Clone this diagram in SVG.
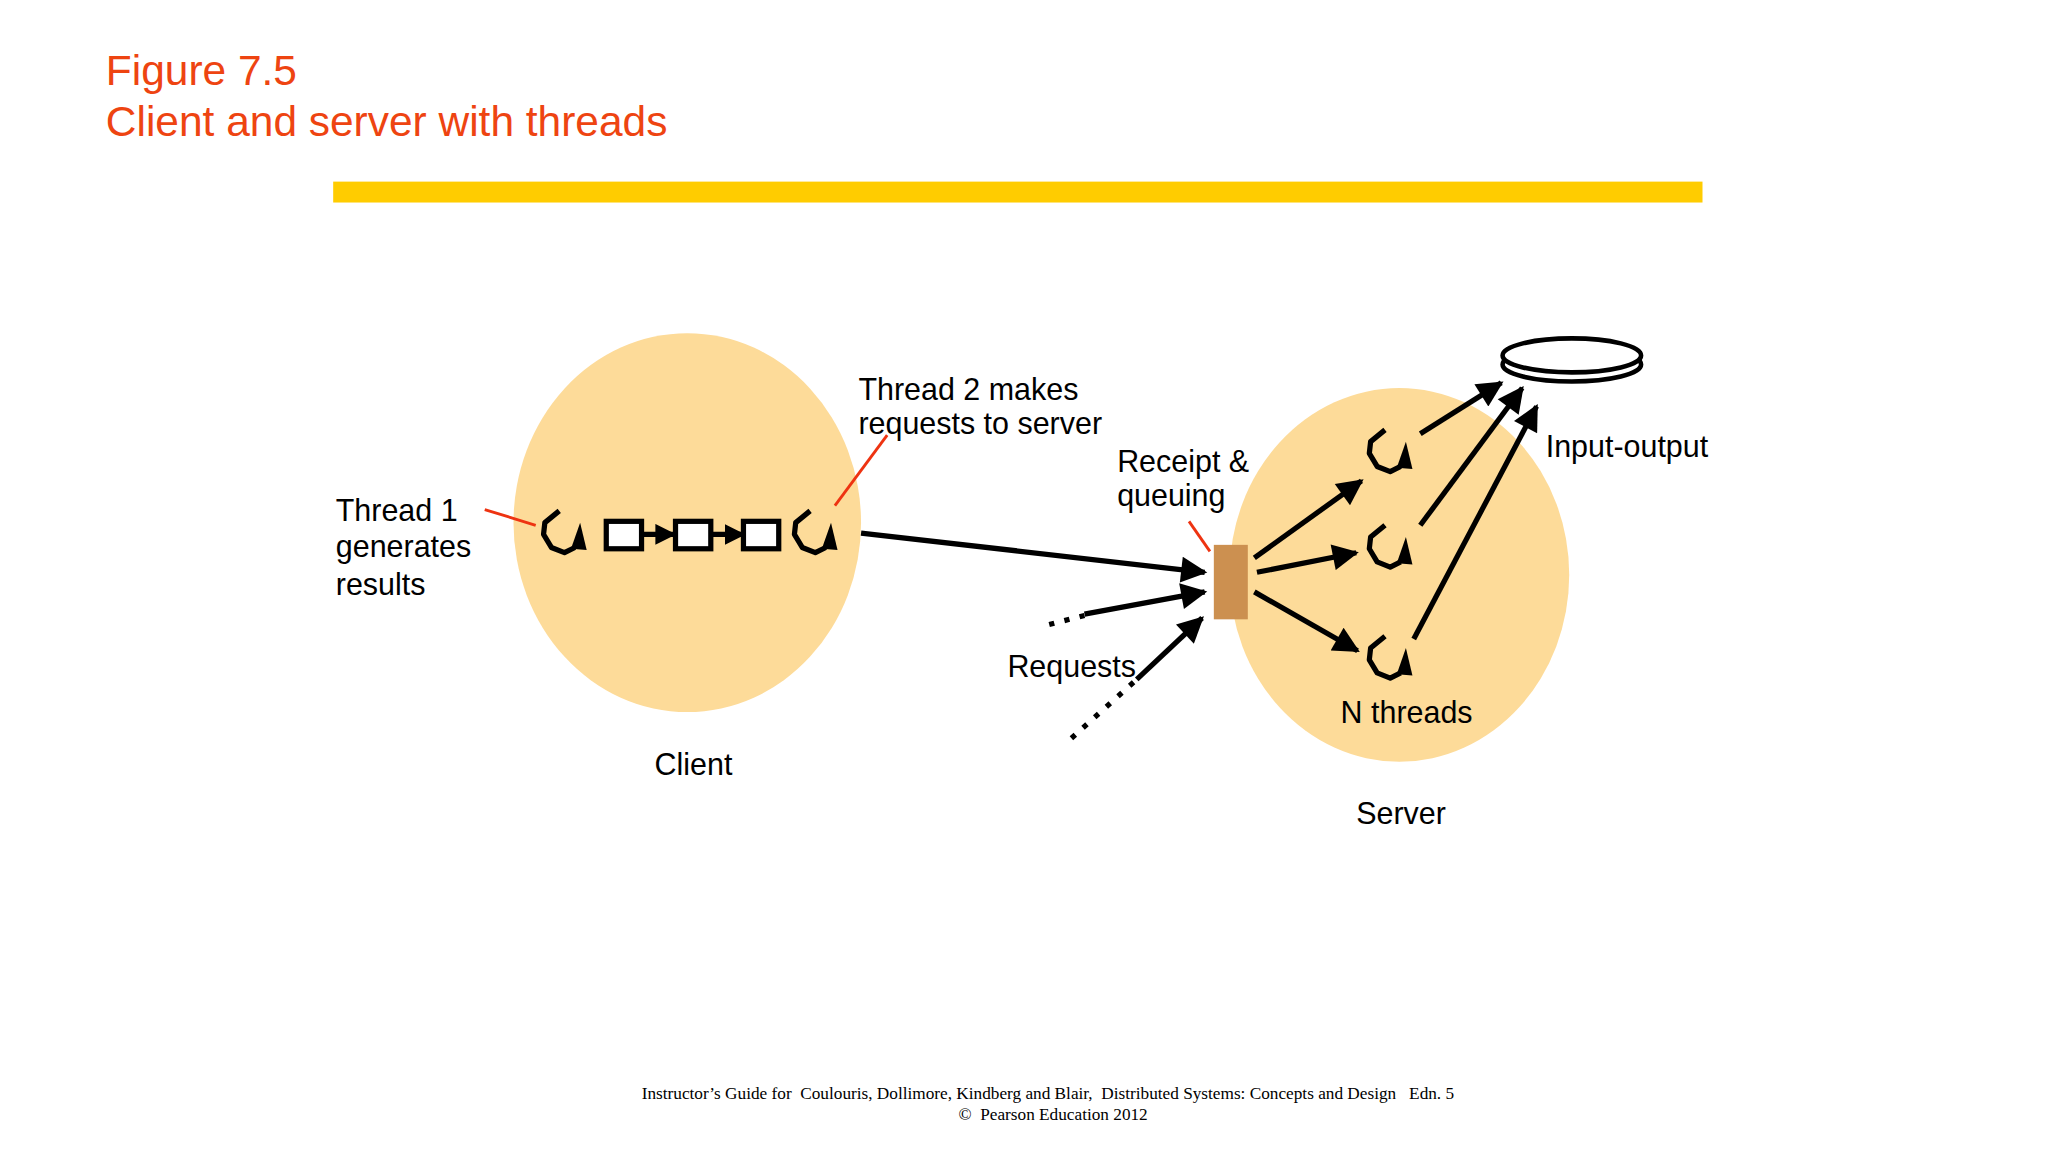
<svg xmlns="http://www.w3.org/2000/svg" width="2048" height="1152" viewBox="0 0 2048 1152">
<defs>
<style>
.t{font-family:"Liberation Sans",Arial,sans-serif;font-size:23.3px;fill:#000}
.ln{stroke:#000;stroke-width:4;fill:none}
.red{stroke:#EE3311;stroke-width:2.2;fill:none}
</style>
<marker id="ah" viewBox="0 0 10 10" refX="9" refY="5" markerWidth="6" markerHeight="5" orient="auto"><path d="M0,0L10,5L0,10z" fill="#000"/></marker>
<marker id="ab" viewBox="0 0 10 10" refX="9" refY="5" markerWidth="4" markerHeight="4" orient="auto"><path d="M0,0L10,5L0,10z" fill="#000"/></marker>
<symbol id="th" overflow="visible">
<path d="M14,2 L3,11 L2,20 L8,30 L18,34 L26,30" fill="none" stroke="#000" stroke-width="4" stroke-linejoin="round"/>
<path d="M30,11 L35,32 L23,31 Z" fill="#000"/>
</symbol>
</defs>
<rect width="2048" height="1152" fill="#fff"/>
<g transform="scale(1.3066)">
<g id="title" font-family="Liberation Sans,Arial,sans-serif" font-size="32.5" fill="#EE4411">
<text x="81" y="65">Figure 7.5</text>
<text x="81" y="104">Client and server with threads</text>
</g>
<rect id="bar" x="255" y="139" width="1048" height="16" fill="#FFCC00"/>
<g id="client">
<ellipse cx="526" cy="400" rx="133" ry="145" fill="#FDDB99"/>
<use href="#th" x="414" y="389"/>
<use href="#th" x="606" y="389"/>
<rect x="464" y="399" width="27" height="21" fill="#fff" stroke="#000" stroke-width="4"/>
<rect x="517" y="399" width="27" height="21" fill="#fff" stroke="#000" stroke-width="4"/>
<rect x="569" y="399" width="27" height="21" fill="#fff" stroke="#000" stroke-width="4"/>
<text class="t" x="501" y="593">Client</text>
</g>
<g id="server">
<ellipse cx="1071" cy="440" rx="130" ry="143" fill="#FDDB99"/>
<use href="#th" x="1046" y="327"/>
<use href="#th" x="1046" y="400"/>
<use href="#th" x="1046" y="485"/>
<text class="t" x="1026" y="553">N threads</text>
<text class="t" x="1038" y="631">Server</text>
</g>
<g id="queue"><rect x="929" y="417" width="26" height="57" fill="#CC9050"/></g>
<g id="disk">
<ellipse cx="1203" cy="279" rx="53" ry="13" fill="#fff" stroke="#000" stroke-width="3.5"/>
<ellipse cx="1203" cy="272" rx="53" ry="13" fill="#fff" stroke="#000" stroke-width="3.5"/>
</g>
<g id="connectors">
<line class="ln" x1="491" y1="409" x2="516" y2="409" stroke-width="3" marker-end="url(#ab)"/>
<line class="ln" x1="544" y1="409" x2="569" y2="409" stroke-width="3" marker-end="url(#ab)"/>
<line class="ln" x1="659" y1="408" x2="922" y2="438" marker-end="url(#ah)"/>
<line class="ln" x1="830" y1="470" x2="922" y2="453" marker-end="url(#ah)"/>
<line class="ln" x1="803" y1="478" x2="830" y2="471" stroke-dasharray="4,8"/>
<line class="ln" x1="870" y1="520" x2="920" y2="473" marker-end="url(#ah)"/>
<line class="ln" x1="820" y1="565" x2="870" y2="520" stroke-dasharray="4,8"/>
<line class="ln" x1="960" y1="427" x2="1042" y2="368" marker-end="url(#ah)"/>
<line class="ln" x1="962" y1="438" x2="1038" y2="423" marker-end="url(#ah)"/>
<line class="ln" x1="960" y1="453" x2="1039" y2="498" marker-end="url(#ah)"/>
<line class="ln" x1="1087" y1="332" x2="1149" y2="293" marker-end="url(#ah)"/>
<line class="ln" x1="1087" y1="402" x2="1165" y2="297" marker-end="url(#ah)"/>
<line class="ln" x1="1082" y1="489" x2="1176" y2="311" marker-end="url(#ah)"/>
<line class="red" x1="371" y1="390" x2="410" y2="402"/>
<line class="red" x1="679" y1="333" x2="639" y2="387"/>
<line class="red" x1="910" y1="399" x2="926" y2="422"/>
</g>
<g id="labels">
<text class="t" x="657" y="306">Thread 2 makes</text>
<text class="t" x="657" y="332">requests to server</text>
<text class="t" x="257" y="399">Thread 1</text>
<text class="t" x="257" y="426">generates</text>
<text class="t" x="257" y="455">results</text>
<text class="t" x="855" y="361">Receipt &amp;</text>
<text class="t" x="855" y="387">queuing</text>
<text class="t" x="771" y="518">Requests</text>
<text class="t" x="1183" y="350">Input-output</text>
</g>
<g id="footer" font-family="Liberation Serif,Times New Roman,serif" font-size="13.2" text-anchor="middle">
<text x="802" y="841" xml:space="preserve">Instructor’s Guide for  Coulouris, Dollimore, Kindberg and Blair,  Distributed Systems: Concepts and Design   Edn. 5</text>
<text x="806" y="857" xml:space="preserve">©  Pearson Education 2012</text>
</g>
</g>
</svg>
